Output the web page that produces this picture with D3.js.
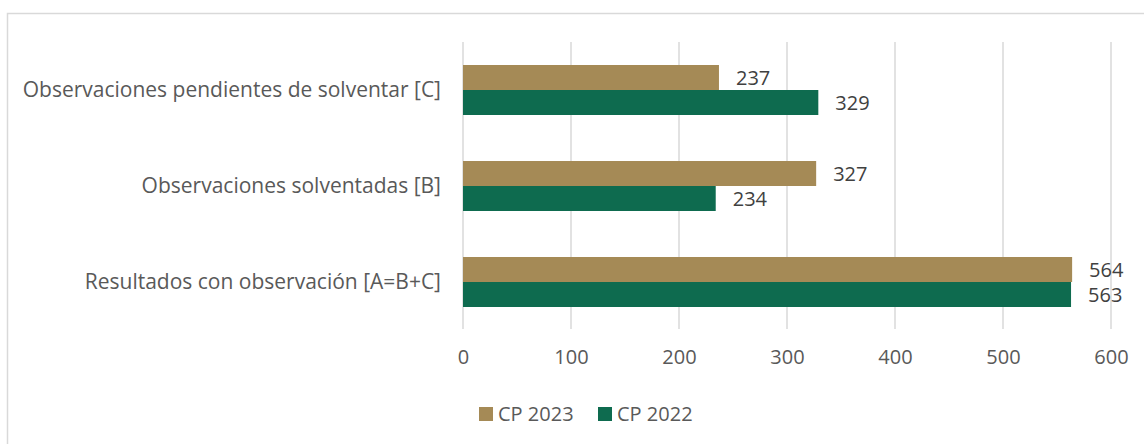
<html>
<head>
<meta charset="utf-8">
<script src="https://cdn.jsdelivr.net/npm/d3@7"></script>
<style>
  body { margin: 0; background: #fff; }
  text { font-family: "Open Sans", sans-serif; }
</style>
</head>
<body>
<div id="chart"></div>
<script>
var categories = ["Observaciones pendientes de solventar [C]", "Observaciones solventadas [B]", "Resultados con observación [A=B+C]"];
var seriesNames = ["CP 2023", "CP 2022"];
var cp2023 = [237, 327, 564];
var cp2022 = [329, 234, 563];
var xTicks = [0, 100, 200, 300, 400, 500, 600];
var colors = ["#A58A56", "#0E6B4F"];

var width = 1144, height = 444;
var svg = d3.select("#chart").append("svg")
    .attr("width", width)
    .attr("height", height);

// chart border (runs off the right and bottom of the picture)
svg.append("rect")
    .attr("x", 7.5).attr("y", 13.5)
    .attr("width", 1150).attr("height", 450)
    .attr("fill", "none")
    .attr("stroke", "#d9d9d9")
    .attr("stroke-width", 1.5);

var x = d3.scaleLinear().domain([0, 600]).range([463, 1111]);
var y = d3.scaleBand().domain(categories).range([42, 330]).paddingInner(0).paddingOuter(0);
var inner = d3.scaleBand().domain(seriesNames).range([0, y.bandwidth()]).paddingInner(0).paddingOuter(0.92);

// gridlines
svg.append("g")
    .selectAll("line")
    .data(xTicks)
    .join("line")
    .attr("x1", function(d) { return x(d); })
    .attr("x2", function(d) { return x(d); })
    .attr("y1", 42).attr("y2", 329)
    .attr("stroke", "#d9d9d9")
    .attr("stroke-width", 1.5);

// x tick labels
var xAxis = svg.append("g")
    .attr("transform", "translate(0,330)")
    .call(d3.axisBottom(x).tickValues(xTicks).tickSize(0).tickPadding(20));
xAxis.select(".domain").remove();
xAxis.selectAll("text")
    .style("font-size", "20px")
    .style("font-family", "'Open Sans', sans-serif")
    .attr("fill", "#595959");

// y category labels
var yAxis = svg.append("g")
    .attr("transform", "translate(463,0)")
    .call(d3.axisLeft(y).tickSize(0).tickPadding(22));
yAxis.select(".domain").remove();
yAxis.selectAll("text")
    .style("font-size", "21px")
    .style("font-family", "'Open Sans', sans-serif")
    .attr("fill", "#595959");

var rows = categories.map(function(c, i) {
  return { cat: c, values: [cp2023[i], cp2022[i]] };
});

var groups = svg.append("g")
    .selectAll("g")
    .data(rows)
    .join("g")
    .attr("transform", function(d) { return "translate(0," + y(d.cat) + ")"; });

groups.selectAll("rect")
    .data(function(d) { return d.values.map(function(v, j) { return { s: seriesNames[j], v: v, j: j }; }); })
    .join("rect")
    .attr("x", x(0))
    .attr("y", function(d) { return inner(d.s); })
    .attr("width", function(d) { return x(d.v) - x(0); })
    .attr("height", inner.bandwidth())
    .attr("fill", function(d) { return colors[d.j]; });

groups.selectAll("text.val")
    .data(function(d) { return d.values.map(function(v, j) { return { s: seriesNames[j], v: v }; }); })
    .join("text")
    .attr("class", "val")
    .attr("x", function(d) { return x(d.v) + 17; })
    .attr("y", function(d) { return inner(d.s) + inner.bandwidth() / 2; })
    .attr("dy", "0.35em")
    .style("font-size", "20px")
    .attr("fill", "#404040")
    .text(function(d) { return d.v; });

// legend
var legend = svg.append("g").attr("transform", "translate(479,407)");
var lx = [0, 119];
seriesNames.forEach(function(s, i) {
  var g = legend.append("g").attr("transform", "translate(" + lx[i] + ",0)");
  g.append("rect").attr("width", 14).attr("height", 14).attr("fill", colors[i]);
  g.append("text")
    .attr("x", 19).attr("y", 7).attr("dy", "0.35em")
    .style("font-size", "20px")
    .attr("fill", "#595959")
    .text(s);
});
</script>
</body>
</html>
